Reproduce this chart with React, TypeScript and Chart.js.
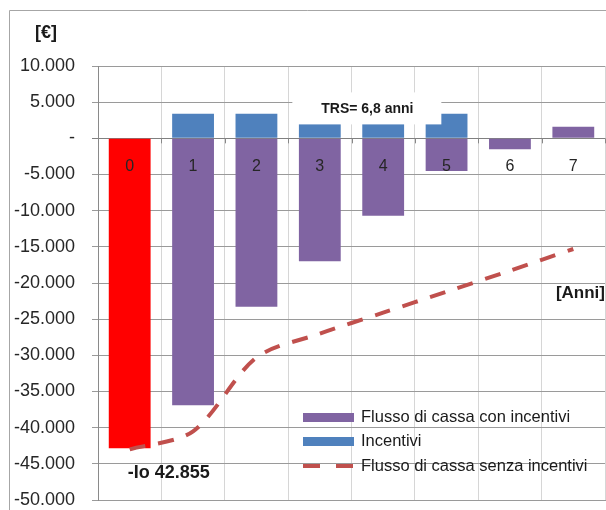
import { useEffect, useRef } from 'react';
import { Chart, registerables } from 'chart.js';
Chart.register(...registerables);

const years = ['0', '1', '2', '3', '4', '5', '6', '7'];
const flussoConIncentivi = [-42855, -36900, -23300, -17000, -10700, -4500, -1500, 1600];
const incentivi = [0, 3400, 3400, 3400, 3400, 3400, 0, 0];
const flussoSenzaIncentivi = [-43000, -40500, -30300, -27000, -24100, -21200, -18300, -15300];
const seriesLabels = ['Flusso di cassa con incentivi', 'Incentivi', 'Flusso di cassa senza incentivi'];
const yMin = -50000;
const yMax = 10000;
const yStep = 5000;
const yUnit = '[€]';
const xUnit = '[Anni]';
const trsText = 'TRS= 6,8 anni';
const ioPrefix = '-Io ';

const PURPLE = '#8064A2';
const BLUE = '#4F81BD';
const RED = '#FF0000';
const LINE = '#C0504D';
const FONT = "'Liberation Sans', Arial, sans-serif";

const fmt = (v: number) =>
  v === 0 ? '-' : (v < 0 ? '-' : '') + Math.abs(v).toString().replace(/\B(?=(\d{3})+(?!\d))/g, '.');

const overlay = {
  id: 'overlay',
  beforeDraw(chart: any) {
    const ctx = chart.ctx;
    ctx.save();
    ctx.fillStyle = '#ffffff';
    ctx.fillRect(0, 0, chart.width, chart.height);
    ctx.strokeStyle = '#a6a6a6';
    ctx.lineWidth = 1;
    ctx.beginPath();
    ctx.moveTo(9.5, chart.height);
    ctx.lineTo(9.5, 10.5);
    ctx.lineTo(chart.width, 10.5);
    ctx.stroke();
    ctx.restore();
  },
  afterDatasetsDraw(chart: any) {
    const ctx = chart.ctx;
    const xs = chart.scales.x;
    const ys = chart.scales.y;
    const area = chart.chartArea;
    const y0 = ys.getPixelForValue(0);
    const catW = (area.right - area.left) / years.length;
    ctx.save();
    ctx.strokeStyle = '#888888';
    ctx.lineWidth = 1;
    ctx.beginPath();
    for (let i = 0; i <= years.length; i++) {
      const x = Math.round(area.left + i * catW) + 0.5;
      ctx.moveTo(x, y0);
      ctx.lineTo(x, y0 + 5);
    }
    ctx.stroke();
    ctx.fillStyle = '#262626';
    ctx.font = `16px ${FONT}`;
    ctx.textAlign = 'center';
    ctx.textBaseline = 'middle';
    years.forEach((lab, i) => {
      ctx.fillText(lab, xs.getPixelForValue(i), y0 + 28);
    });
    const tx = xs.getPixelForValue(3) + catW * 0.75;
    const ty = ys.getPixelForValue(4000);
    ctx.fillStyle = '#ffffff';
    ctx.fillRect(tx - 75, ty - 17, 149, 32);
    ctx.fillStyle = '#1a1a1a';
    ctx.font = `bold 14px ${FONT}`;
    ctx.fillText(trsText, tx, ty);
    ctx.textAlign = 'left';
    ctx.font = `bold 18px ${FONT}`;
    ctx.fillText(ioPrefix + fmt(Math.abs(flussoConIncentivi[0])), xs.getPixelForValue(0) - 2, ys.getPixelForValue(flussoConIncentivi[0]) + 25);
    ctx.font = `bold 18px ${FONT}`;
    ctx.textAlign = 'center';
    ctx.fillText(yUnit, 46, 33);
    ctx.font = `bold 17px ${FONT}`;
    ctx.textAlign = 'right';
    ctx.fillText(xUnit, area.right, 293);
    const lx = 303;
    const lw = 51;
    const tyL = [417.5, 441.5, 466];
    ctx.font = `16.5px ${FONT}`;
    ctx.textAlign = 'left';
    ctx.fillStyle = PURPLE;
    ctx.fillRect(lx, tyL[0] - 4.5, lw, 9);
    ctx.fillStyle = BLUE;
    ctx.fillRect(lx, tyL[1] - 4.5, lw, 9);
    ctx.strokeStyle = LINE;
    ctx.lineWidth = 4;
    ctx.setLineDash([17, 16]);
    ctx.beginPath();
    ctx.moveTo(lx, tyL[2]);
    ctx.lineTo(lx + lw, tyL[2]);
    ctx.stroke();
    ctx.setLineDash([]);
    ctx.fillStyle = '#1a1a1a';
    seriesLabels.forEach((s, i) => ctx.fillText(s, lx + lw + 7, tyL[i]));
    ctx.restore();
  },
};

export default function App() {
  const ref = useRef<HTMLCanvasElement>(null);
  useEffect(() => {
    if (!ref.current) return;
    Chart.defaults.font.family = FONT;
    const chart = new Chart(ref.current, {
      type: 'bar',
      data: {
        labels: years,
        datasets: [
          {
            type: 'line',
            label: seriesLabels[2],
            data: flussoSenzaIncentivi,
            borderColor: LINE,
            borderWidth: 4,
            borderDash: [16, 13],
            pointRadius: 0,
            tension: 0.3,
            fill: false,
            stack: 'line',
            order: 0,
          } as any,
          {
            label: seriesLabels[0],
            data: flussoConIncentivi,
            backgroundColor: flussoConIncentivi.map((_, i) => (i === 0 ? RED : PURPLE)),
            stack: 'bars',
            barPercentage: 0.66,
            categoryPercentage: 1,
            order: 1,
          },
          {
            label: seriesLabels[1],
            data: incentivi,
            backgroundColor: BLUE,
            stack: 'bars',
            barPercentage: 0.66,
            categoryPercentage: 1,
            order: 2,
          },
        ],
      },
      options: {
        animation: false,
        responsive: true,
        maintainAspectRatio: false,
        layout: { padding: { left: 0, top: 66, right: 1, bottom: 10 } },
        plugins: { legend: { display: false }, tooltip: { enabled: false } },
        scales: {
          x: {
            stacked: true,
            ticks: { display: false },
            grid: { color: '#d6d6d6', drawTicks: false, offset: true },
            border: { display: true, color: '#9a9a9a' },
            afterFit: (s: any) => {
              s.height = 0;
            },
          },
          y: {
            stacked: true,
            min: yMin,
            max: yMax,
            ticks: {
              stepSize: yStep,
              padding: 17,
              color: '#262626',
              font: { size: 18, family: FONT },
              callback: (v: any) => fmt(Number(v)),
            },
            grid: {
              color: (c: any) => (c.tick && c.tick.value === 0 ? '#808080' : '#9a9a9a'),
              tickLength: 6,
            },
            border: { display: true, color: '#8a8a8a' },
            afterFit: (s: any) => {
              s.width = 98;
              s.paddingTop = 0;
              s.paddingBottom = 0;
            },
          },
        },
      },
      plugins: [overlay],
    });
    return () => chart.destroy();
  }, []);
  return (
    <div style={{ position: 'fixed', left: 0, top: 0, width: 606, height: 510 }}>
      <canvas ref={ref} />
    </div>
  );
}
